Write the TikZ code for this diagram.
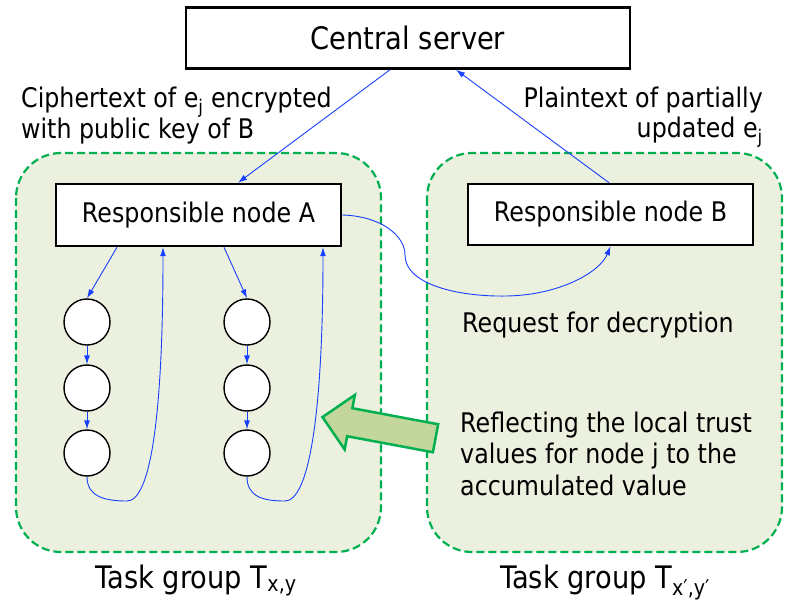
\documentclass[tikz,border=0pt]{standalone}
\usepackage{fontspec}
\setmainfont{DejaVu Sans}[FakeStretch=0.88]
\usetikzlibrary{arrows.meta,shapes.arrows}

\definecolor{groupfill}{HTML}{EBF1DE}
\definecolor{groupline}{HTML}{00B050}
\definecolor{linkblue}{HTML}{1A40FF}
\definecolor{reflectfill}{HTML}{C3D69B}

\tikzset{
  group/.style={draw=groupline, fill=groupfill, line width=2.2pt,
    dash pattern=on 8pt off 4pt, rounded corners=45pt},
  box/.style={draw, fill=white, line width=2.5pt, inner sep=0pt,
    font=\fontsize{27}{32}\selectfont},
  member/.style={circle, draw, fill=white, line width=1.4pt,
    minimum size=46pt, inner sep=0pt},
  link/.style={draw=linkblue, line width=0.9pt, -{Latex[length=9pt,width=6pt]}},
  txt/.style={inner sep=0pt, font=\fontsize{27}{30}\selectfont},
  caption/.style={inner sep=0pt, font=\fontsize{31}{36}\selectfont},
}

\begin{document}
\begin{tikzpicture}[x=1pt, y=-1pt]
    \useasboundingbox (0, 0) rectangle (786, 609);

      %%groups
      \draw[group](16, 153) rectangle (381, 552);
      \draw[group](427, 153) rectangle (782, 552);
      \node[caption, anchor=base] (capA) at (196, 588) {Task group T\textsubscript{x,y}};
      \node[caption, anchor=base] (capB) at (605, 588) {Task group T\textsubscript{x′,y′}};

      %%server
      \node[box, minimum width=444pt, minimum height=61pt,
        font=\fontsize{31}{36}\selectfont] (server) at (408, 38) {Central server};
      \node[box, minimum width=285pt, minimum height=62pt] (nodeA) at (198.5, 215) {Responsible node A};
      \node[box, minimum width=285pt, minimum height=61pt] (nodeB) at (610.5, 214.5) {Responsible node B};

      \node[txt, anchor=north west, align=left] (cipher) at (21, 86.5)
        {Ciphertext of e\textsubscript{j} encrypted\\with public key of B};
      \node[txt, anchor=north east, align=right] (plain) at (763, 86.5)
        {Plaintext of partially\\updated e\textsubscript{j}};

    \draw[link]([xshift=-18pt]server.south) -- ([xshift=39.5pt]nodeA.north);
    \draw[link]([xshift=-1.5pt]nodeB.north) -- ([xshift=48pt]server.south);

      %%column 1
      \node[member] (c11) at (87, 322) {};
      \node[member] (c12) at (87, 388) {};
      \node[member] (c13) at (87, 453) {};
      \coordinate (loop1) at (127, 501);
    \draw[link]([xshift=-81.5pt]nodeA.south) -- (c11.north);
    \draw[link](c11.south) -- (c12.north);
    \draw[link](c12.south) -- (c13.north);
    \draw[link](c13.south) .. controls +(0, 20) and (105, 501) .. (loop1)
      .. controls (150, 501) and (163, 420) .. ([xshift=-35.5pt]nodeA.south);

      %%column 2
      \node[member] (c21) at (247, 322) {};
      \node[member] (c22) at (247, 388) {};
      \node[member] (c23) at (247, 453) {};
      \coordinate (loop2) at (285, 501);
    \draw[link]([xshift=25.5pt]nodeA.south) -- (c21.north);
    \draw[link](c21.south) -- (c22.north);
    \draw[link](c22.south) -- (c23.north);
    \draw[link](c23.south) .. controls +(0, 20) and (263, 501) .. (loop2)
      .. controls (308, 501) and (323, 420) .. ([xshift=124.5pt]nodeA.south);

      %%request
    \draw[link](nodeA.east) .. controls (380, 216) and (405, 235) .. (405, 255)
      .. controls (405, 285) and (460, 297) .. (507, 296)
      .. controls (560, 295) and (600, 272) .. (nodeB.south);
      \node[txt, anchor=base west] (request) at (462, 332) {Request for decryption};

      %%reflect
      \node[single arrow, draw=groupline, fill=reflectfill, line width=2.5pt,
        inner xsep=0pt, inner ysep=13pt, minimum height=115pt,
        single arrow head extend=13.5pt, single arrow head indent=0pt,
        rotate=169.4] (reflect) at (386, 429) {};
      \node[txt, anchor=north west, align=left, font=\fontsize{27}{31.5}\selectfont]
        (reflecttext) at (460, 411.5)
        {Reflecting the local trust\\values for node j to the\\accumulated value};

\end{tikzpicture}
\end{document}
